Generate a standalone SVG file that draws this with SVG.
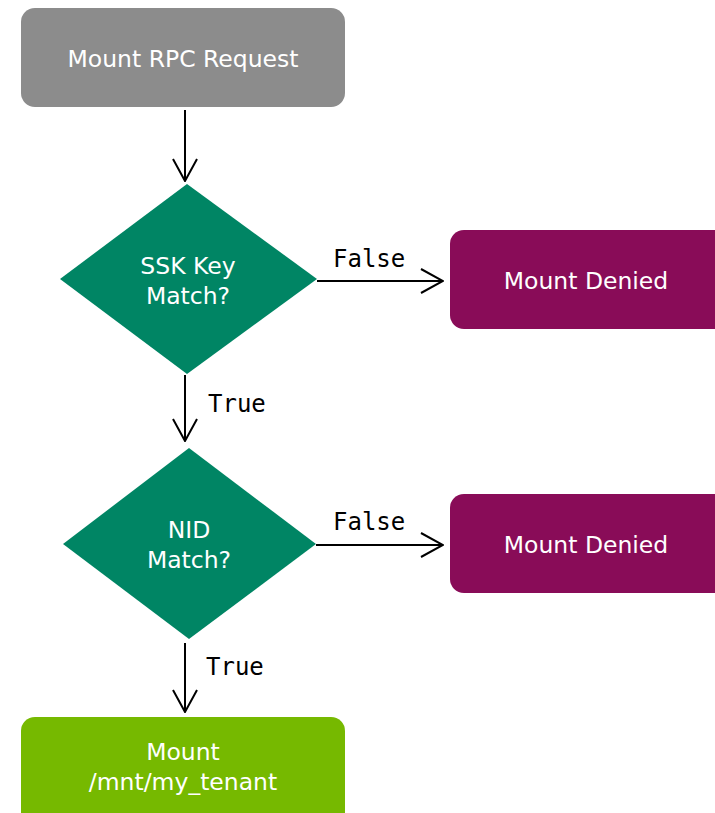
<svg xmlns="http://www.w3.org/2000/svg" width="715" height="813" viewBox="0 0 715 813">
<style>
.lbl{font-family:"DejaVu Sans","Open Sans",sans-serif;font-size:23.5px;fill:#ffffff;text-anchor:middle}
.edge{font-family:"DejaVu Sans Mono","Liberation Mono",monospace;font-size:24px;fill:#000000}
.ln{stroke:#000;stroke-width:2;fill:none}
</style>
<defs>
<marker id="arr" viewBox="0 0 24 26" refX="23" refY="13" markerWidth="24" markerHeight="26" markerUnits="userSpaceOnUse" orient="auto">
<path d="M1,1 L23,13 L1,25" fill="none" stroke="#000" stroke-width="2"/>
</marker>
</defs>
<rect width="715" height="813" fill="#ffffff"/>
<g id="connectors">
<line class="ln" x1="185" y1="110" x2="185" y2="181" marker-end="url(#arr)"/>
<line class="ln" x1="317" y1="281" x2="443" y2="281" marker-end="url(#arr)"/>
<text class="edge" x="333" y="267">False</text>
<line class="ln" x1="185" y1="375" x2="185" y2="441" marker-end="url(#arr)"/>
<text class="edge" x="208" y="412">True</text>
<line class="ln" x1="316" y1="545" x2="443" y2="545" marker-end="url(#arr)"/>
<text class="edge" x="333" y="530">False</text>
<line class="ln" x1="185" y1="643" x2="185" y2="712" marker-end="url(#arr)"/>
<text class="edge" x="206" y="675">True</text>
</g>
<g id="request">
<rect x="21" y="8" width="324" height="99" rx="14" fill="#8c8c8c"/>
<text class="lbl" x="183" y="67">Mount RPC Request</text>
</g>
<g id="ssk">
<polygon points="187,184 317,279 187,374 60,279" fill="#008564"/>
<text class="lbl"><tspan x="188" y="274">SSK Key</tspan><tspan x="188" y="304">Match?</tspan></text>
</g>
<g id="denied1">
<rect x="450" y="230" width="280" height="99" rx="14" fill="#890c58"/>
<text class="lbl" x="586" y="289">Mount Denied</text>
</g>
<g id="nid">
<polygon points="189,448 316,544 189,639 63,544" fill="#008564"/>
<text class="lbl"><tspan x="189" y="538">NID</tspan><tspan x="189" y="568">Match?</tspan></text>
</g>
<g id="denied2">
<rect x="450" y="494" width="280" height="99" rx="14" fill="#890c58"/>
<text class="lbl" x="586" y="553">Mount Denied</text>
</g>
<g id="mount">
<rect x="21" y="717" width="324" height="110" rx="14" fill="#76b900"/>
<text class="lbl"><tspan x="183" y="760">Mount</tspan><tspan x="183" y="790">/mnt/my_tenant</tspan></text>
</g>
</svg>
